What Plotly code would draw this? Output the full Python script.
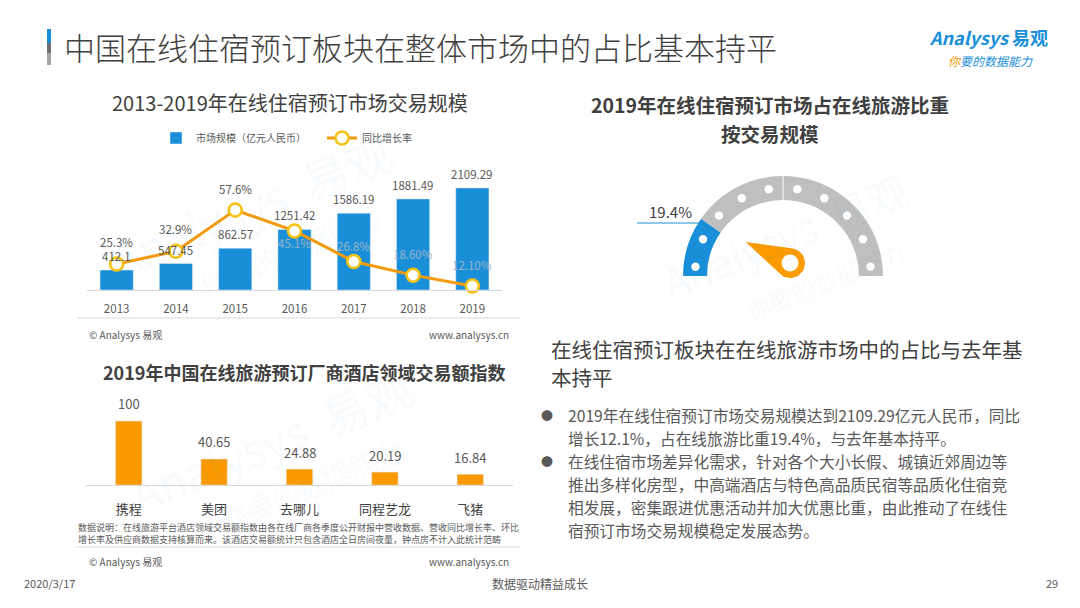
import math
import plotly.graph_objects as go

# ---- data ----
years = ["2013", "2014", "2015", "2016", "2017", "2018", "2019"]
market_size = [412.1, 547.45, 862.57, 1251.42, 1586.19, 1881.49, 2109.29]
growth_rate = [25.3, 32.9, 57.6, 45.1, 26.8, 18.6, 12.1]
growth_labels = ["25.3%", "32.9%", "57.6%", "45.1%", "26.8%", "18.60%", "12.10%"]

vendors = ["携程", "美团", "去哪儿", "同程艺龙", "飞猪"]
hotel_index = [100, 40.65, 24.88, 20.19, 16.84]

share_2019 = 19.4

bullet_1 = ["2019年在线住宿预订市场交易规模达到2109.29亿元人民币，同比",
            "增长12.1%，占在线旅游比重19.4%，与去年基本持平。"]
bullet_2 = ["在线住宿市场差异化需求，针对各个大小长假、城镇近郊周边等",
            "推出多样化房型，中高端酒店与特色高品质民宿等品质化住宿竞",
            "相发展，密集跟进优惠活动并加大优惠比重，由此推动了在线住",
            "宿预订市场交易规模稳定发展态势。"]

# ---- styling ----
W, H = 1080, 608
FONT = "Noto Sans CJK SC"
BLUE = "#1a8fd9"
ORANGE = "#f59a0c"
DARK = "#404040"
GREY = "#595959"
LIGHT = "#d9d9d9"
WATER = "rgba(26,143,217,0.05)"

# label offsets (px) for the growth-rate labels
rate_label_shift = [22, 22, 21, -12, 15, 21, 21]


def px_x(x):
    return x / W


def px_y(y):
    return 1 - y / H


fig = go.Figure()

# top-left: market size bars + growth line
fig.add_trace(go.Bar(
    x=years, y=market_size, name="市场规模（亿元人民币）", legend="legend",
    marker=dict(color=BLUE), width=0.56,
    xaxis="x", yaxis="y", hoverinfo="skip"))
fig.add_trace(go.Scatter(
    x=years, y=growth_rate, name="同比增长率", mode="lines+markers", legend="legend2",
    line=dict(color=ORANGE, width=3),
    marker=dict(size=13, color="white", line=dict(color="#f7c20f", width=2.5)),
    xaxis="x", yaxis="y2", cliponaxis=False, hoverinfo="skip"))

for i, v in enumerate(market_size):
    fig.add_annotation(x=i, y=v, xref="x", yref="y", text=f"{v:g}", showarrow=False,
                       yshift=14, font=dict(size=11.5, family=FONT, color=GREY))
for i, (r, lab) in enumerate(zip(growth_rate, growth_labels)):
    fig.add_annotation(x=i, y=r, xref="x", yref="y2", text=lab, showarrow=False,
                       yshift=rate_label_shift[i],
                       font=dict(size=11.5, family=FONT, color=GREY if i < 3 else "#9db4c6"))

# bottom-left: hotel index bars
fig.add_trace(go.Bar(
    x=vendors, y=hotel_index, marker=dict(color="#fb9a00"), width=0.31,
    showlegend=False, xaxis="x2", yaxis="y3", hoverinfo="skip"))
for i, v in enumerate(hotel_index):
    fig.add_annotation(x=i, y=v, xref="x2", yref="y3", text=f"{v:g}", showarrow=False,
                       yshift=17, font=dict(size=13, family=FONT, color=GREY))

# right: half-donut gauge
g_cx, g_cy, g_r, g_hole = 783, 276, 100, 0.76
fig.add_trace(go.Pie(
    values=[share_2019, 100 - share_2019, 100], sort=False, direction="clockwise",
    rotation=-90, hole=g_hole, textinfo="none", hoverinfo="skip", showlegend=False,
    marker=dict(colors=[BLUE, "#bfbfbf", "rgba(0,0,0,0)"], line=dict(width=0)),
    domain=dict(x=[px_x(g_cx - g_r), px_x(g_cx + g_r)],
                y=[px_y(g_cy + g_r), px_y(g_cy - g_r)])))

# needle: from hub toward the value boundary on the ring
mid_r = g_r * (1 + g_hole) / 2
hub_x, hub_y, hub_r = 790, 263, 15
va = math.radians(180 - share_2019 * 1.8)
bx, by = g_cx + mid_r * math.cos(va), g_cy - mid_r * math.sin(va)
ang = math.atan2(-(by - hub_y), bx - hub_x)
tip_len = 49
tx, ty = hub_x + tip_len * math.cos(ang), hub_y - tip_len * math.sin(ang)
alpha = math.acos(hub_r / tip_len)
nx, ny = [tx], [ty]
steps = 30
for k in range(steps + 1):
    a = ang + alpha + k * (2 * math.pi - 2 * alpha) / steps
    nx.append(hub_x + hub_r * math.cos(a))
    ny.append(hub_y - hub_r * math.sin(a))
nx.append(tx)
ny.append(ty)
fig.add_trace(go.Scatter(x=nx, y=ny, mode="lines", fill="toself", fillcolor="#fa9b00",
                         line=dict(width=0, color="#fa9b00"),
                         xaxis="x3", yaxis="y4", showlegend=False, hoverinfo="skip"))
fig.add_trace(go.Scatter(x=[hub_x], y=[hub_y], mode="markers",
                         marker=dict(size=17, color="white"),
                         xaxis="x3", yaxis="y4", showlegend=False, hoverinfo="skip"))


def label(x, y, text, size, color=DARK, anchor="center", angle=0, weight="normal"):
    fig.add_annotation(x=x, y=y, xref="x3", yref="y4", text=text, showarrow=False,
                       xanchor=anchor, yanchor="middle", textangle=angle,
                       font=dict(size=size, color=color, family=FONT, weight=weight))


# watermarks
for wx, wy, ws in [(250, 205, 46), (270, 440, 46), (785, 235, 40)]:
    label(wx, wy, "Analysys  易观", ws, WATER, angle=-22)
    label(wx + 40, wy + 45, "你要的数据能力", ws * 0.6, WATER, angle=-22)

# header
label(62, 46, "中国在线住宿预订板块在整体市场中的占比基本持平", 31, DARK, anchor="left", weight=300)
label(988, 37, "<i>Analysys</i> 易观", 18, BLUE, weight="bold")
label(990, 60, "<i><span style='color:#f39800'>你</span>要的数据能力</i>", 12, BLUE)

# chart titles
label(290, 102, "2013-2019年在线住宿预订市场交易规模", 20, DARK)
label(304, 372, "2019年中国在线旅游预订厂商酒店领域交易额指数", 18, DARK, weight="bold")
label(770, 104, "2019年在线住宿预订市场占在线旅游比重", 19.5, DARK, weight="bold")
label(770, 133, "按交易规模", 19.5, DARK, weight="bold")
label(670, 211, "19.4%", 15, DARK)

# sources and notes
label(87, 334, "© Analysys 易观", 10, GREY, anchor="left")
label(511, 334, "www.analysys.cn", 10, GREY, anchor="right")
label(76, 527, "数据说明：在线旅游平台酒店领域交易额指数由各在线厂商各季度公开财报中营收数据、营收同比增长率、环比",
      9, GREY, anchor="left")
label(76, 539, "增长率及供应商数据支持核算而来。该酒店交易额统计只包含酒店全日房间夜量，钟点房不计入此统计范畴",
      9, GREY, anchor="left")
label(87, 561, "© Analysys 易观", 10, GREY, anchor="left")
label(511, 561, "www.analysys.cn", 10, GREY, anchor="right")

# right-hand text
label(549, 349, "在线住宿预订板块在在线旅游市场中的占比与去年基", 20.5, DARK, anchor="left")
label(549, 377, "本持平", 20.5, DARK, anchor="left")
line_y = 415
for block in (bullet_1, bullet_2):
    label(547, line_y, "●", 12, GREY)
    for ln in block:
        label(566, line_y, ln, 15.7, GREY, anchor="left")
        line_y += 23

# footer
label(22, 583, "2020/3/17", 11, GREY, anchor="left")
label(540, 583, "数据驱动精益成长", 12, GREY)
label(1060, 583, "29", 11, GREY, anchor="right")

# decorative shapes
shapes = [
    dict(type="rect", x0=47, x1=51, y0=29, y1=43, fillcolor=BLUE),
    dict(type="rect", x0=47, x1=51, y0=43, y1=53, fillcolor="#6f6f6f"),
    dict(type="rect", x0=47, x1=51, y0=53, y1=65, fillcolor="#a6a6a6"),
    dict(type="line", x0=78, x1=520, y0=318, y1=318, line=dict(color=LIGHT, width=1)),
    dict(type="line", x0=76, x1=520, y0=547, y1=547, line=dict(color=LIGHT, width=1)),
    dict(type="line", x0=637, x1=699, y0=223, y1=223, line=dict(color=BLUE, width=1)),
    dict(type="line", x0=g_cx, x1=g_cx, y0=g_cy - g_r, y1=g_cy - g_r * g_hole,
         line=dict(color="white", width=1)),
]
# white dots along the gauge ring
n_dots = 10
dot_r = 4.2
for k in range(n_dots):
    a = math.radians(6 + k * 168 / (n_dots - 1))
    dx, dy = g_cx + mid_r * math.cos(a), g_cy - mid_r * math.sin(a)
    shapes.append(dict(type="circle", x0=dx - dot_r, x1=dx + dot_r, y0=dy - dot_r, y1=dy + dot_r,
                       fillcolor="white"))
for s in shapes:
    s.update(xref="x3", yref="y4", layer="above")
    if s["type"] in ("rect", "circle"):
        s["line"] = dict(width=0)
fig.update_layout(shapes=shapes)

legend_style = dict(orientation="h", xanchor="left", yanchor="middle", y=px_y(138),
                    font=dict(size=10, color=GREY), bgcolor="rgba(0,0,0,0)", itemwidth=30)

fig.update_layout(
    width=W, height=H, margin=dict(l=0, r=0, t=0, b=0),
    paper_bgcolor="white", plot_bgcolor="rgba(0,0,0,0)",
    font=dict(family=FONT, color=GREY),
    legend=dict(x=px_x(156), **legend_style),
    legend2=dict(x=px_x(322), **legend_style),
    xaxis=dict(type="category", domain=[px_x(87), px_x(502)], range=[-0.5, 6.5], anchor="y",
               showline=True, linecolor=LIGHT, ticks="", showgrid=False, ticklabelstandoff=8,
               tickfont=dict(size=11.5, color=GREY), fixedrange=True),
    yaxis=dict(domain=[px_y(290), px_y(150)], range=[0, 2892], visible=False,
               anchor="x", fixedrange=True),
    yaxis2=dict(overlaying="y", range=[9.7, 93.6], visible=False, anchor="x",
                fixedrange=True),
    xaxis2=dict(type="category", domain=[px_x(86), px_x(513)], range=[-0.5, 4.5], anchor="y3",
                showline=True, linecolor=LIGHT, ticks="", showgrid=False, ticklabelstandoff=12,
                tickfont=dict(size=13, color=DARK), fixedrange=True),
    yaxis3=dict(domain=[px_y(485), px_y(395)], range=[0, 140.6], visible=False,
                anchor="x2", fixedrange=True),
    xaxis3=dict(domain=[0, 1], range=[0, W], visible=False, anchor="y4", fixedrange=True),
    yaxis4=dict(domain=[0, 1], range=[H, 0], visible=False, anchor="x3", fixedrange=True),
)

fig.write_html("out.html", config={"displayModeBar": False},
               post_script="document.body.style.margin='0';")
